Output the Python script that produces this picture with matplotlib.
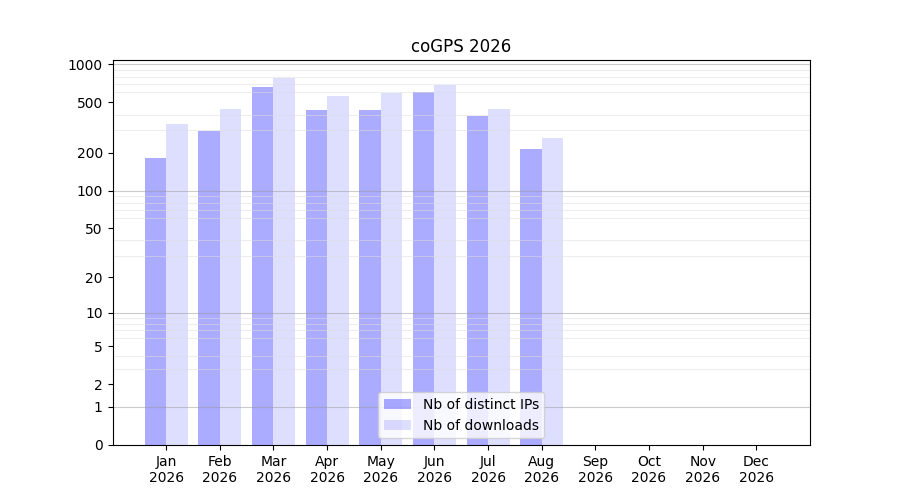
import numpy as np
import matplotlib
matplotlib.use("Agg")
from matplotlib import pyplot as plt
from matplotlib.ticker import FixedLocator, NullFormatter

# Monthly stats for coGPS
months = ["Jan", "Feb", "Mar", "Apr", "May", "Jun", "Jul", "Aug", "Sep", "Oct", "Nov", "Dec"]
year = "2026"
distinct_ips = [181, 296, 658, 434, 434, 602, 389, 213]
downloads = [336, 442, 776, 559, 591, 683, 442, 261]

y_ticks = [0, 1, 2, 5, 10, 20, 50, 100, 200, 500, 1000]
decades = [1, 10, 100, 1000]


def fwd(v):
    return np.log10(1 + np.clip(v, 0, None))


def inv(v):
    return 10 ** v - 1


fig, ax = plt.subplots(figsize=(9, 5), dpi=100)

x = np.arange(len(distinct_ips))
ax.bar(x - 0.2, distinct_ips, width=0.4, color="blue", alpha=0.33, label="Nb of distinct IPs")
ax.bar(x + 0.2, downloads, width=0.4, color="blue", alpha=0.13, label="Nb of downloads")

ax.set_yscale("function", functions=(fwd, inv))
ax.set_ylim(0, 1080)
ax.set_xlim(-1, 12)

ax.set_xticks(np.arange(len(months)))
ax.set_xticklabels([m + "\n" + year for m in months])

ax.yaxis.set_major_locator(FixedLocator(y_ticks))
ax.set_yticklabels([str(t) for t in y_ticks])
minor = [m * d for d in [1, 10, 100] for m in range(2, 10)]
ax.yaxis.set_minor_locator(FixedLocator(minor))
ax.yaxis.set_minor_formatter(NullFormatter())
ax.tick_params(axis="y", which="minor", length=0)
ax.grid(which="minor", axis="y", color="#dddddd", linewidth=0.8, alpha=0.5)
for d in decades:
    ax.axhline(d, color="#999999", linewidth=0.8, alpha=0.5)

ax.set_title("coGPS 2026")
ax.legend(loc="lower center")

fig.savefig("out.png")
